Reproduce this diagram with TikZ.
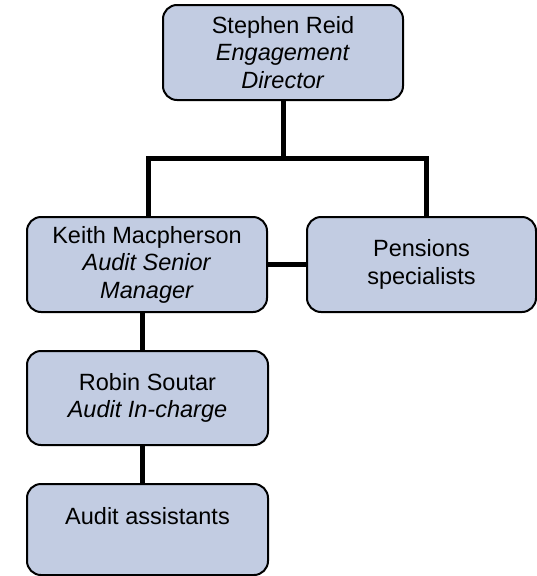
\documentclass[tikz,border=0pt]{standalone}
\usepackage{fontspec}
\setmainfont{Liberation Sans}
\definecolor{boxfill}{RGB}{194,204,226}
\begin{document}
\begin{tikzpicture}[x=1pt,y=-1pt,
  orgbox/.style={draw=black, line width=2pt, fill=boxfill, rounded corners=14pt,
    align=center, inner sep=0pt, font=\fontsize{23.5}{27.5}\selectfont},
  link/.style={line width=5pt, black}]
\useasboundingbox (0,0) rectangle (537,576);
\node[orgbox, minimum width=240pt, minimum height=95pt] (top) at (283,52.5)
  {Stephen Reid\\\textit{Engagement}\\\textit{Director}};
\node[orgbox, minimum width=240pt, minimum height=95pt] (keith) at (147,264.5)
  {Keith Macpherson\\\textit{Audit Senior}\\\textit{Manager}};
\node[orgbox, minimum width=229pt, minimum height=95pt] (pens) at (421.5,264.5)
  {Pensions\\specialists};
\node[orgbox, minimum width=241pt, minimum height=94pt] (robin) at (147.5,398)
  {Robin Soutar\\\textit{Audit In-charge}};
\node[orgbox, minimum width=241pt, minimum height=91pt] (assist) at (147.5,529.5)
  {Audit assistants\\~};
\coordinate (bus) at (283,158);
\begin{scope}[on background layer/.style={}]
\end{scope}
\draw[link] (top.south) -- (bus);
\draw[link] ([xshift=1pt]keith.north) |- (bus) -| ([xshift=4.5pt]pens.north);
\draw[link] (keith.east) -- (pens.west);
\draw[link] ([xshift=-5pt]keith.south) -- ([xshift=-5.5pt]robin.north);
\draw[link] ([xshift=-5.5pt]robin.south) -- ([xshift=-5.5pt]assist.north);
\end{tikzpicture}
\end{document}
